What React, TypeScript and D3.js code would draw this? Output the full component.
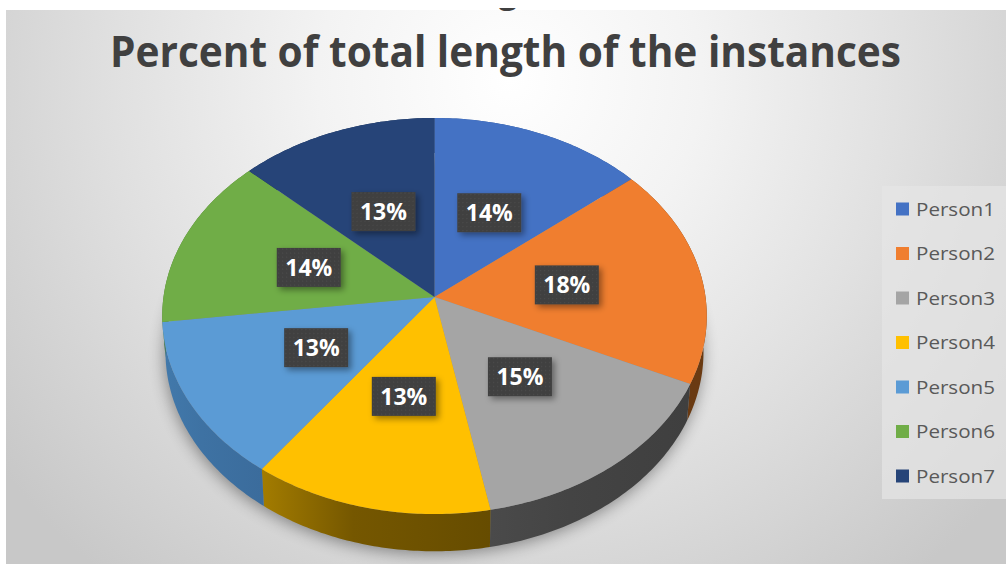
import React from "react";
import * as d3 from "d3";

const WIDTH = 1006;
const HEIGHT = 564;

const people = ["Person1", "Person2", "Person3", "Person4", "Person5", "Person6", "Person7"];
const shares = [14, 18, 15, 13, 13, 14, 13];
const topColors = ["#4472c4", "#f07e2f", "#a5a5a5", "#ffc000", "#5b9bd5", "#70ad47", "#264478"];
const wallStart = ["#2f5597", "#8a4a17", "#4a4a4a", "#a37c00", "#4279ab", "#4c7a30", "#1b3055"];
const wallMid = ["#2f5597", "#7a4214", "#444444", "#755700", "#3e72a3", "#4c7a30", "#1b3055"];
const wallEnd = ["#2f5597", "#6a3a12", "#3f3f3f", "#664c00", "#3b6c9c", "#4c7a30", "#1b3055"];

// Pie disc seen in perspective
const CX = 434.5;
const CY = 297;
const RADIUS = 271;
const PERSPECTIVE = 0.096;
const DEPTH_Y = 196.2;
const THICKNESS = 36;
const BASE_SHRINK = 0.988;

type Pt = [number, number];

function project(angle: number, r = 1, base = false): Pt {
  const u = -Math.cos(angle) * r;
  const den = 1 - PERSPECTIVE * u;
  const x = (RADIUS * Math.sin(angle) * r) / den;
  const y = (DEPTH_Y * u) / den;
  if (!base) return [CX + x, CY + y];
  return [CX + x * BASE_SHRINK, CY + y * BASE_SHRINK + THICKNESS / den];
}

const arcs = d3
  .pie<number>()
  .sort(null)
  .startAngle(0)
  .endAngle(2 * Math.PI)(shares);

const line = d3.line<Pt>();

const sample = (a0: number, a1: number) =>
  d3.range(0, 61).map((i) => d3.interpolateNumber(a0, a1)(i / 60));

function slicePath(a0: number, a1: number): string {
  const pts: Pt[] = [[CX, CY], ...sample(a0, a1).map((a) => project(a))];
  return line(pts) + "Z";
}

function wallPath(a0: number, a1: number): string {
  const angles = sample(a0, a1);
  const pts: Pt[] = [
    ...angles.map((a) => project(a)),
    ...angles.slice().reverse().map((a) => project(a, 1, true)),
  ];
  return line(pts) + "Z";
}

const baseOutline =
  line(sample(0, 2 * Math.PI).map((a) => project(a, 1, true))) + "Z";

const LEGEND_X = 882;
const legendY = d3.scalePoint<string>().domain(people).range([209, 476]);

export default function App() {
  return (
    <svg
      width={WIDTH}
      height={HEIGHT}
      viewBox={`0 0 ${WIDTH} ${HEIGHT}`}
      style={{ position: "absolute", left: 0, top: 0, display: "block" }}
    >
      <defs>
        <radialGradient id="panelBg" gradientUnits="userSpaceOnUse" cx={510} cy={80} r={640}>
          <stop offset="0" stopColor="#ffffff" />
          <stop offset="0.3" stopColor="#f3f3f3" />
          <stop offset="0.62" stopColor="#e0e0e0" />
          <stop offset="1" stopColor="#c8c8c8" />
        </radialGradient>
        <filter id="discShadow" x="-20%" y="-20%" width="140%" height="140%">
          <feGaussianBlur stdDeviation="8" />
        </filter>
        <filter id="boxShadow" x="-30%" y="-30%" width="170%" height="170%">
          <feDropShadow dx="3" dy="3" stdDeviation="3" floodColor="#000" floodOpacity="0.4" />
        </filter>
        <pattern id="boxDots" width="4" height="4" patternUnits="userSpaceOnUse">
          <rect width="4" height="4" fill="#3f3f3f" />
          <rect x="1" y="1" width="1.4" height="1.4" fill="#4a4a4a" />
        </pattern>
        <clipPath id="topStrip">
          <rect x={480} y={8} width={60} height={6} />
        </clipPath>
        {arcs.map((d, i) => {
          const [x0] = project(d.startAngle);
          const [x1] = project(d.endAngle);
          return (
            <linearGradient
              key={i}
              id={`wall${i}`}
              gradientUnits="userSpaceOnUse"
              x1={Math.min(x0, x1)}
              x2={Math.max(x0, x1)}
              y1={0}
              y2={0}
            >
              <stop offset="0" stopColor={wallStart[i]} />
              <stop offset="0.4" stopColor={wallMid[i]} />
              <stop offset="1" stopColor={wallEnd[i]} />
            </linearGradient>
          );
        })}
      </defs>

      <rect width={WIDTH} height={HEIGHT} fill="#ffffff" />
      <rect x={6} y={10} width={WIDTH - 6} height={HEIGHT - 10} fill="url(#panelBg)" />

      {/* descender of the clipped line above the title */}
      <text
        x={508}
        y={3}
        textAnchor="middle"
        clipPath="url(#topStrip)"
        fontFamily="'Open Sans', sans-serif"
        fontWeight={700}
        fontSize={34}
        fill="#404040"
      >
        g
      </text>

      <text
        x={110}
        y={67}
        textLength={791}
        lengthAdjust="spacingAndGlyphs"
        fontFamily="'Open Sans', sans-serif"
        fontWeight={700}
        fontSize={43}
        fill="#404040"
      >
        Percent of total length of the instances
      </text>

      <path
        d={baseOutline}
        fill="#000"
        opacity={0.4}
        filter="url(#discShadow)"
        transform="translate(-1,3)"
      />

      {arcs.map((d, i) => (
        <path key={`w${i}`} d={wallPath(d.startAngle, d.endAngle)} fill={`url(#wall${i})`} />
      ))}
      {arcs.map((d, i) => (
        <path key={`s${i}`} d={slicePath(d.startAngle, d.endAngle)} fill={topColors[i]} />
      ))}

      {arcs.map((d, i) => {
        const [x, y] = project((d.startAngle + d.endAngle) / 2, 0.495);
        return (
          <g key={`l${i}`} transform={`translate(${x},${y})`}>
            <rect x={-32} y={-19.5} width={64} height={39} fill="url(#boxDots)" filter="url(#boxShadow)" />
            <text
              y={8.5}
              textAnchor="middle"
              textLength={47}
              lengthAdjust="spacingAndGlyphs"
              fontFamily="'Open Sans', sans-serif"
              fontWeight={700}
              fontSize={24}
              fill="#ffffff"
            >
              {d3.format(".0%")(d.value / d3.sum(shares))}
            </text>
          </g>
        );
      })}

      <rect x={LEGEND_X} y={186} width={WIDTH - LEGEND_X} height={313} fill="#e6e6e6" opacity={0.7} />
      {people.map((name, i) => {
        const y = legendY(name)!;
        return (
          <g key={name}>
            <rect x={896} y={y - 6.5} width={13} height={13} fill={topColors[i]} />
            <text
              x={916}
              y={y + 6.5}
              textLength={79}
              lengthAdjust="spacingAndGlyphs"
              fontFamily="'Open Sans', sans-serif"
              fontSize={19}
              fill="#595959"
            >
              {name}
            </text>
          </g>
        );
      })}
    </svg>
  );
}
